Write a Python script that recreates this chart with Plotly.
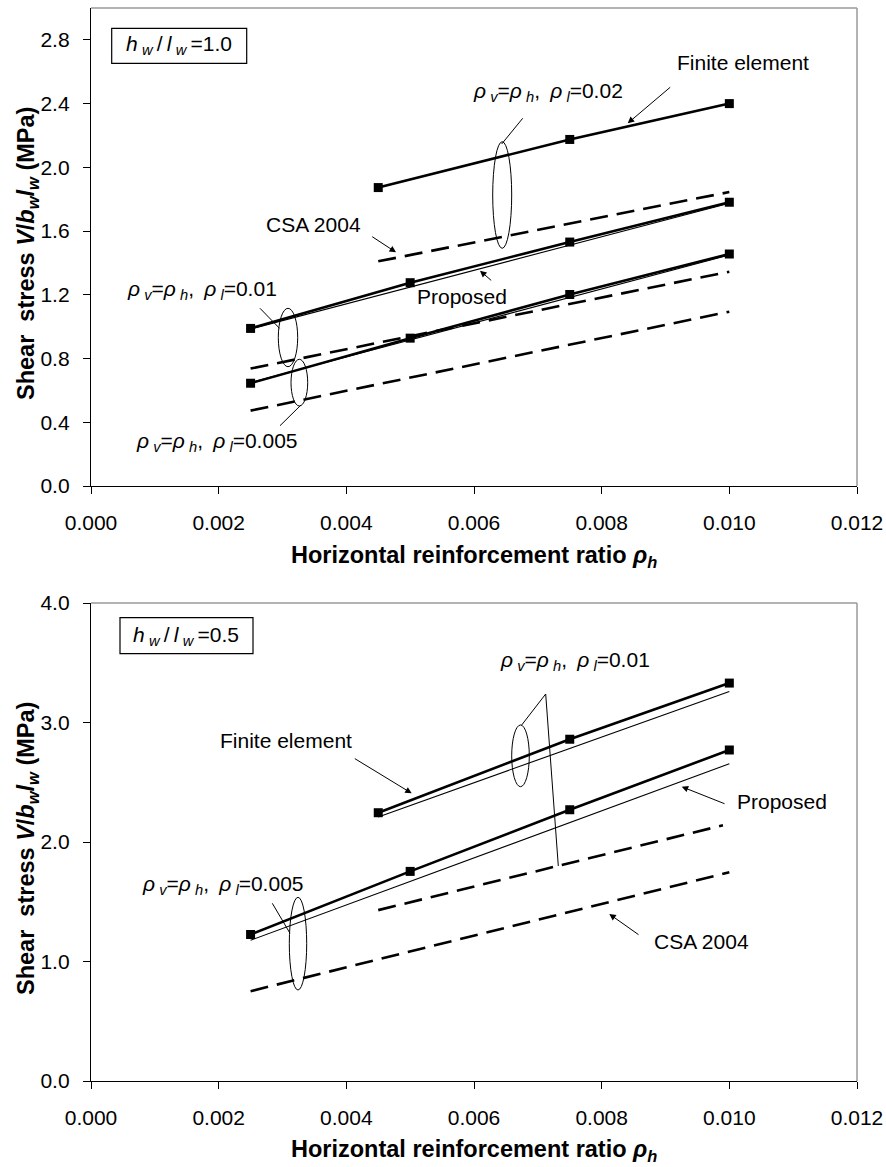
import plotly.graph_objects as go

# ---------------- data ----------------
# Top panel: hw/lw = 1.0
x_fe_002 = [0.0045, 0.0075, 0.010]
y_fe_002 = [1.873, 2.175, 2.400]
x_fe_001 = [0.0025, 0.005, 0.0075, 0.010]
y_fe_001 = [0.989, 1.276, 1.531, 1.781]
x_fe_0005 = [0.0025, 0.005, 0.0075, 0.010]
y_fe_0005 = [0.645, 0.928, 1.202, 1.456]

x_pr_001_top = [0.0025, 0.010]
y_pr_001_top = [0.985, 1.775]
x_pr_0005_top = [0.0025, 0.010]
y_pr_0005_top = [0.650, 1.450]

x_csa_002 = [0.0045, 0.010]
y_csa_002 = [1.410, 1.845]
x_csa_001_top = [0.0025, 0.010]
y_csa_001_top = [0.737, 1.345]
x_csa_0005_top = [0.0025, 0.010]
y_csa_0005_top = [0.473, 1.094]

# Bottom panel: hw/lw = 0.5
x_fe_001_b = [0.0045, 0.0075, 0.010]
y_fe_001_b = [2.245, 2.860, 3.330]
x_fe_0005_b = [0.0025, 0.005, 0.0075, 0.010]
y_fe_0005_b = [1.226, 1.754, 2.270, 2.770]

x_pr_001_b = [0.0045, 0.010]
y_pr_001_b = [2.210, 3.260]
x_pr_0005_b = [0.0025, 0.010]
y_pr_0005_b = [1.178, 2.655]

x_csa_001_b = [0.0045, 0.0099]
y_csa_001_b = [1.430, 2.140]
x_csa_0005_b = [0.0025, 0.010]
y_csa_0005_b = [0.752, 1.747]

x_ticks = [0.0, 0.002, 0.004, 0.006, 0.008, 0.010, 0.012]
x_ticklabels = ["0.000", "0.002", "0.004", "0.006", "0.008", "0.010", "0.012"]
y_ticks_top = [0.0, 0.4, 0.8, 1.2, 1.6, 2.0, 2.4, 2.8]
y_ticks_bot = [0.0, 1.0, 2.0, 3.0, 4.0]

# ---------------- layout geometry (pixels) ----------------
W, H = 886, 1167
L, R = 91, 857
T1, B1 = 8, 486
T2, B2 = 603, 1081
FONT = "Liberation Sans, Arial, sans-serif"
TS = "\u2009"  # thin space


def px(p):
    return (p - L) / (R - L) * 0.012


def py1(p):
    return (B1 - p) / (B1 - T1) * 3.0


def py2(p):
    return (B2 - p) / (B2 - T2) * 4.0


def paper_x(p):
    return (p - L) / (R - L)


def paper_y(p):
    return (B2 - p) / (B2 - T1)


fig = go.Figure()

thick = dict(color="black", width=2.6)
thin = dict(color="black", width=1.1)
dash = dict(color="black", width=2.6, dash="18px,9px")
mk = dict(symbol="square", size=9, color="black")


def add_line(xs, ys, line, axis, markers=False):
    fig.add_trace(go.Scatter(
        x=xs, y=ys, mode="lines+markers" if markers else "lines",
        line=line, marker=mk if markers else None,
        xaxis="x" if axis == 1 else "x2", yaxis="y" if axis == 1 else "y2",
        showlegend=False, hoverinfo="skip"))


# top panel
add_line(x_pr_001_top, y_pr_001_top, thin, 1)
add_line(x_pr_0005_top, y_pr_0005_top, thin, 1)
add_line(x_csa_002, y_csa_002, dash, 1)
add_line(x_csa_001_top, y_csa_001_top, dash, 1)
add_line(x_csa_0005_top, y_csa_0005_top, dash, 1)
add_line(x_fe_002, y_fe_002, thick, 1, True)
add_line(x_fe_001, y_fe_001, thick, 1, True)
add_line(x_fe_0005, y_fe_0005, thick, 1, True)

# bottom panel
add_line(x_pr_001_b, y_pr_001_b, thin, 2)
add_line(x_pr_0005_b, y_pr_0005_b, thin, 2)
add_line(x_csa_001_b, y_csa_001_b, dash, 2)
add_line(x_csa_0005_b, y_csa_0005_b, dash, 2)
add_line(x_fe_001_b, y_fe_001_b, thick, 2, True)
add_line(x_fe_0005_b, y_fe_0005_b, thick, 2, True)

axis_common = dict(
    showgrid=False, zeroline=False, showline=True, linecolor="black", linewidth=1.3,
    ticks="outside", ticklen=7, tickwidth=1.2, tickcolor="black", automargin=False,
    tickfont=dict(family=FONT, size=21, color="black"),
)

fig.update_layout(
    width=W, height=H,
    margin=dict(l=L, r=W - R, t=T1, b=H - B2, autoexpand=False),
    paper_bgcolor="white", plot_bgcolor="white",
    font=dict(family=FONT, size=20, color="black"),
    xaxis=dict(domain=[0, 1], range=[0, 0.012], tickvals=x_ticks, ticktext=x_ticklabels,
               anchor="y", ticklabelstandoff=11, **axis_common),
    yaxis=dict(domain=[paper_y(B1), 1], range=[0, 3.0], tickvals=y_ticks_top,
               ticktext=["%.1f" % v for v in y_ticks_top], anchor="x",
               ticklabelstandoff=9, **axis_common),
    xaxis2=dict(domain=[0, 1], range=[0, 0.012], tickvals=x_ticks, ticktext=x_ticklabels,
                anchor="y2", ticklabelstandoff=11, **axis_common),
    yaxis2=dict(domain=[0, paper_y(T2)], range=[0, 4.0], tickvals=y_ticks_bot,
                ticktext=["%.1f" % v for v in y_ticks_bot], anchor="x2",
                ticklabelstandoff=9, **axis_common),
)

shapes = []
# gray top/right borders
for (t, b) in [(T1, B1), (T2, B2)]:
    shapes.append(dict(type="line", xref="paper", yref="paper",
                       x0=paper_x(L), x1=paper_x(R), y0=paper_y(t), y1=paper_y(t),
                       line=dict(color="#9a9a9a", width=1.5)))
    shapes.append(dict(type="line", xref="paper", yref="paper",
                       x0=paper_x(R), x1=paper_x(R), y0=paper_y(t), y1=paper_y(b),
                       line=dict(color="#9a9a9a", width=1.5)))


def ellipse(axis, x0, y0, x1, y1):
    fy = py1 if axis == 1 else py2
    shapes.append(dict(type="circle", xref="x" if axis == 1 else "x2",
                       yref="y" if axis == 1 else "y2",
                       x0=px(x0), x1=px(x1), y0=fy(y1), y1=fy(y0),
                       line=dict(color="black", width=1)))


def seg(axis, x0, y0, x1, y1):
    fy = py1 if axis == 1 else py2
    shapes.append(dict(type="line", xref="x" if axis == 1 else "x2",
                       yref="y" if axis == 1 else "y2",
                       x0=px(x0), x1=px(x1), y0=fy(y0), y1=fy(y1),
                       line=dict(color="black", width=1)))


def box(axis, x0, y0, x1, y1):
    fy = py1 if axis == 1 else py2
    shapes.append(dict(type="rect", xref="x" if axis == 1 else "x2",
                       yref="y" if axis == 1 else "y2",
                       x0=px(x0), x1=px(x1), y0=fy(y1), y1=fy(y0),
                       line=dict(color="black", width=1.2), fillcolor="white"))


# top panel ellipses and leaders
ellipse(1, 492.7, 141.7, 511.7, 248.3)
seg(1, 522.7, 118.3, 501.7, 144.0)
ellipse(1, 278.3, 308.3, 297.7, 366.7)
seg(1, 260.0, 308.3, 279.5, 328.3)
ellipse(1, 291.0, 359.3, 307.7, 406.0)
seg(1, 301.0, 405.0, 280.0, 425.7)
box(1, 111.7, 28.3, 246.7, 63.3)

# bottom panel ellipses and leaders
ellipse(2, 511.7, 725.0, 529.3, 786.7)
seg(2, 521.7, 725.0, 545.7, 694.0)
seg(2, 545.7, 694.0, 558.3, 866.0)
ellipse(2, 289.3, 897.3, 306.7, 990.0)
seg(2, 272.3, 903.3, 290.0, 933.3)
box(2, 120.0, 617.7, 253.0, 653.7)

fig.update_layout(shapes=shapes)

ann = []


def text(axis, x, y, s, size=20):
    fy = py1 if axis == 1 else py2
    ann.append(dict(xref="x" if axis == 1 else "x2", yref="y" if axis == 1 else "y2",
                    x=px(x), y=fy(y), text=s, showarrow=False,
                    font=dict(family=FONT, size=size, color="black"),
                    xanchor="center", yanchor="middle"))


def arrow(axis, xt, yt, xh, yh):
    fy = py1 if axis == 1 else py2
    xr = "x" if axis == 1 else "x2"
    yr = "y" if axis == 1 else "y2"
    ann.append(dict(xref=xr, yref=yr, axref=xr, ayref=yr,
                    x=px(xh), y=fy(yh), ax=px(xt), ay=fy(yt), text="",
                    showarrow=True, arrowhead=2, arrowsize=1.3, arrowwidth=1,
                    arrowcolor="black", standoff=0, startstandoff=0))


def rho_label(val):
    return ("<i>ρ</i>" + TS + "<sub><i>v</i></sub>=<i>ρ</i>" + TS + "<sub><i>h</i></sub>,"
            + TS + " <i>ρ</i>" + TS + "<sub><i>l</i></sub>=" + val)


def ratio(val):
    return ("<i>h</i>" + TS + "<sub><i>w</i></sub>" + TS + "/" + TS + "<i>l</i>" + TS
            + "<sub><i>w</i></sub>" + TS + "=" + val)


# top panel text
text(1, 179, 45, ratio("1.0"), 21)
text(1, 743, 62, "Finite element", 21)
arrow(1, 671.7, 86.0, 627.7, 123.3)
text(1, 548, 92, rho_label("0.02"), 21)
text(1, 313, 224, "CSA 2004", 21)
arrow(1, 370.7, 235.7, 396.0, 252.3)
text(1, 462, 296, "Proposed", 21)
arrow(1, 492.7, 281.7, 480.0, 270.7)
text(1, 202, 290, rho_label("0.01"), 21)
text(1, 217, 442, rho_label("0.005"), 21)

# bottom panel text
text(2, 186, 636, ratio("0.5"), 21)
text(2, 286, 740, "Finite element", 21)
arrow(2, 353.3, 757.7, 411.7, 793.3)
text(2, 575, 661, rho_label("0.01"), 21)
text(2, 782, 801, "Proposed", 21)
arrow(2, 726.0, 804.3, 681.7, 786.7)
text(2, 223, 885, rho_label("0.005"), 21)
text(2, 701, 941, "CSA 2004", 21)
arrow(2, 640.0, 935.7, 609.3, 914.0)

# axis titles
ytitle = ("<b>Shear&nbsp;&nbsp;stress <i>V</i>/<i>b</i><sub><i>w</i></sub>"
          "<i>l</i><sub><i>w</i></sub> (MPa)</b>")
xtitle = "<b>Horizontal reinforcement ratio <i>ρ</i><sub><i>h</i></sub></b>"
for (cy, ty) in [(254, 556), (849, 1150)]:
    ann.append(dict(xref="paper", yref="paper", x=paper_x(27), y=paper_y(cy),
                    text=ytitle, textangle=-90, showarrow=False,
                    font=dict(family=FONT, size=23.5, color="black"),
                    xanchor="center", yanchor="middle"))
    ann.append(dict(xref="paper", yref="paper", x=paper_x(474), y=paper_y(ty),
                    text=xtitle, showarrow=False,
                    font=dict(family=FONT, size=23.5, color="black"),
                    xanchor="center", yanchor="middle"))

fig.update_layout(annotations=ann)

fig.write_html("out.html")
